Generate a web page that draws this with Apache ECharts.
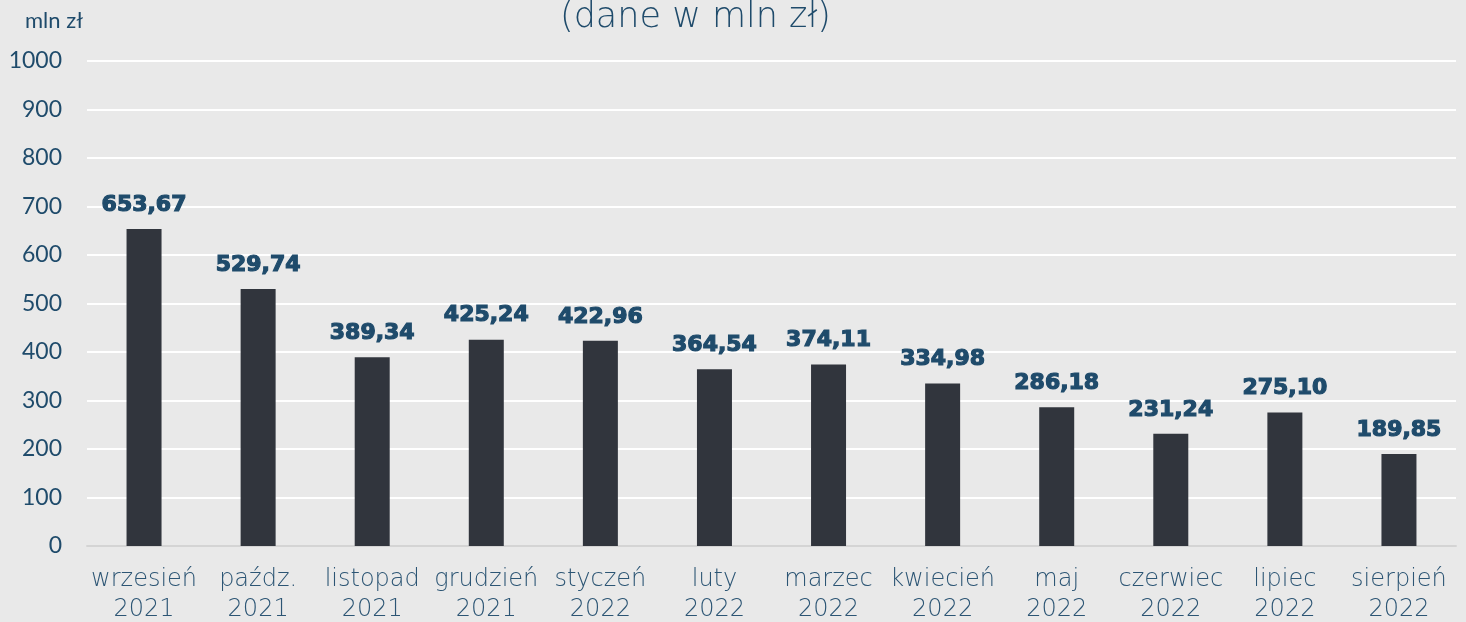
<!DOCTYPE html>
<html>
<head>
<meta charset="utf-8">
<script src="https://cdn.jsdelivr.net/npm/echarts@6/dist/echarts.min.js"></script>
<style>
  html, body { margin: 0; padding: 0; background: #e9e9e9; }
  #chart { width: 1466px; height: 622px; }
</style>
</head>
<body>
<div id="chart"></div>
<script>
// months shown on the x axis (two lines each)
const categories = [
  'wrzesień\n2021', 'paźdz.\n2021', 'listopad\n2021', 'grudzień\n2021',
  'styczeń\n2022', 'luty\n2022', 'marzec\n2022', 'kwiecień\n2022',
  'maj\n2022', 'czerwiec\n2022', 'lipiec\n2022', 'sierpień\n2022'
]
const values = [653.67, 529.74, 389.34, 425.24, 422.96, 364.54, 374.11, 334.98, 286.18, 231.24, 275.10, 189.85]
const yTicks = [0, 100, 200, 300, 400, 500, 600, 700, 800, 900, 1000]

const TEXT_BLUE = '#1f4b6b'
const BAR = '#31353d'

const chart = echarts.init(document.getElementById('chart'), null, { renderer: 'canvas' })

chart.setOption({
  backgroundColor: '#e9e9e9',
  animation: false,
  title: [
    {
      text: '(dane w mln zł)',
      left: 555,
      top: -5,
      textStyle: { fontFamily: 'DejaVu Sans', fontWeight: 200, fontSize: 35, color: TEXT_BLUE }
    },
    {
      text: 'mln zł',
      left: 20,
      top: 5,
      textStyle: { fontFamily: 'Lato', fontWeight: 400, fontSize: 22, color: TEXT_BLUE }
    }
  ],
  grid: { left: 87, right: 10, top: 61, bottom: 76, containLabel: false, outerBoundsMode: 'none' },
  xAxis: {
    type: 'category',
    data: categories,
    axisLine: { lineStyle: { color: '#d4d4d4', width: 2 } },
    axisTick: { show: false },
    axisLabel: {
      color: '#2c5574',
      fontFamily: 'DejaVu Sans',
      fontWeight: 200,
      fontSize: 24,
      lineHeight: 30,
      margin: 19,
      interval: 0
    }
  },
  yAxis: {
    type: 'value',
    min: yTicks[0],
    max: yTicks[yTicks.length - 1],
    interval: 100,
    axisLine: { show: false },
    axisTick: { show: false },
    splitLine: { lineStyle: { color: '#ffffff', width: 2 } },
    axisLabel: {
      color: TEXT_BLUE,
      fontFamily: 'Lato',
      fontSize: 23,
      margin: 25,
      formatter: v => String(v)
    }
  },
  series: [{
    type: 'bar',
    data: values,
    barWidth: 35,
    itemStyle: { color: BAR },
    label: {
      show: true,
      position: 'top',
      distance: 13,
      color: TEXT_BLUE,
      fontFamily: 'DejaVu Sans',
      fontWeight: 'bold',
      fontSize: 22,
      // slight stroke to get closer to the heavy face in the original
      textBorderColor: TEXT_BLUE,
      textBorderWidth: 1.2,
      formatter: p => p.value.toFixed(2).replace('.', ',')
    }
  }]
})
</script>
</body>
</html>
